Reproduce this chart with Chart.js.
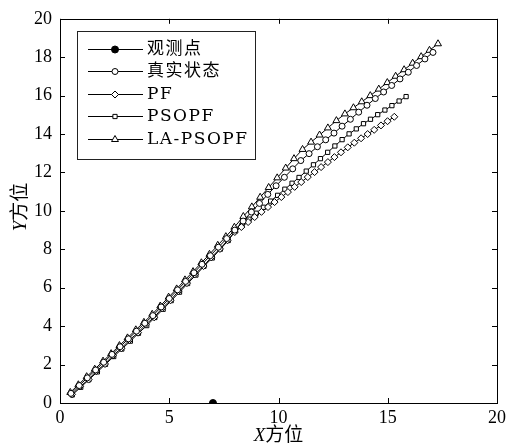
<!DOCTYPE html>
<html>
<head>
<meta charset="utf-8">
<script src="https://cdn.jsdelivr.net/npm/chart.js@4"></script>
<style>
  html, body { margin: 0; padding: 0; background: #fff; }
  #wrap { width: 512px; height: 446px; }
</style>
</head>
<body>
<div id="wrap"><canvas id="traj"></canvas></div>
<script>
// Datos
const obsX = [7];
const obsY = [0];

const trueX = [0.50, 0.88, 1.25, 1.63, 2.00, 2.38, 2.75, 3.13, 3.50, 3.88, 4.25, 4.63, 5.00, 5.38, 5.75, 6.13, 6.50, 6.88, 7.25, 7.63, 8.00,
  8.38, 8.76, 9.13, 9.51, 9.89, 10.27, 10.65, 11.02, 11.40, 11.78, 12.16, 12.54, 12.91, 13.29, 13.67, 14.05, 14.43, 14.81, 15.18, 15.56, 15.94, 16.32, 16.70, 17.07];
const trueY = [0.50, 0.91, 1.31, 1.72, 2.12, 2.53, 2.93, 3.34, 3.74, 4.15, 4.55, 5.00, 5.44, 5.89, 6.33, 6.78, 7.22, 7.67, 8.11, 8.56, 9.00,
  9.47, 9.94, 10.39, 10.86, 11.31, 11.75, 12.19, 12.62, 12.98, 13.34, 13.70, 14.05, 14.41, 14.77, 15.14, 15.50, 15.85, 16.19, 16.53, 16.87, 17.22, 17.57, 17.91, 18.25];

const pfX = [0.55, 0.92, 1.31, 1.66, 2.06, 2.42, 2.81, 3.18, 3.57, 3.92, 4.31, 4.67, 5.06, 5.42, 5.81, 6.17, 6.57, 6.92, 7.32, 7.67, 8.00,
  8.30, 8.61, 8.91, 9.22, 9.52, 9.82, 10.13, 10.43, 10.74, 11.04, 11.34, 11.65, 11.95, 12.26, 12.56, 12.86, 13.17, 13.47, 13.78, 14.08, 14.38, 14.69, 14.99, 15.30];
const pfY = [0.45, 0.86, 1.22, 1.66, 2.03, 2.47, 2.85, 3.28, 3.66, 4.09, 4.46, 4.93, 5.35, 5.82, 6.24, 6.70, 7.13, 7.58, 8.02, 8.47, 8.90,
  9.16, 9.42, 9.68, 9.95, 10.20, 10.46, 10.72, 10.98, 11.25, 11.50, 11.76, 12.02, 12.28, 12.54, 12.80, 13.05, 13.31, 13.55, 13.78, 14.00, 14.22, 14.45, 14.67, 14.90];

const psoX = [0.56, 0.95, 1.32, 1.71, 2.08, 2.46, 2.83, 3.22, 3.59, 3.97, 4.34, 4.72, 5.09, 5.47, 5.84, 6.22, 6.59, 6.97, 7.34, 7.70, 8.02,
  8.33, 8.65, 8.98, 9.31, 9.64, 9.96, 10.29, 10.62, 10.94, 11.27, 11.60, 11.92, 12.25, 12.58, 12.91, 13.23, 13.56, 13.89, 14.21, 14.54, 14.87, 15.19, 15.52, 15.84];
const psoY = [0.42, 0.82, 1.21, 1.62, 2.01, 2.42, 2.81, 3.22, 3.63, 4.03, 4.45, 4.88, 5.33, 5.77, 6.22, 6.66, 7.12, 7.55, 8.01, 8.46, 8.95,
  9.26, 9.57, 9.88, 10.19, 10.51, 10.81, 11.13, 11.44, 11.74, 12.07, 12.40, 12.72, 13.05, 13.38, 13.71, 14.01, 14.27, 14.54, 14.77, 15.01, 15.25, 15.48, 15.72, 15.95];

const laX = [0.47, 0.84, 1.22, 1.59, 1.97, 2.34, 2.72, 3.09, 3.47, 3.84, 4.22, 4.59, 4.97, 5.34, 5.72, 6.09, 6.47, 6.84, 7.22, 7.59, 7.98,
  8.39, 8.78, 9.16, 9.55, 9.94, 10.33, 10.71, 11.10, 11.49, 11.88, 12.26, 12.65, 13.04, 13.43, 13.81, 14.20, 14.59, 14.98, 15.36, 15.75, 16.14, 16.53, 16.91, 17.30];
const laY = [0.55, 0.95, 1.37, 1.76, 2.18, 2.57, 2.99, 3.39, 3.81, 4.20, 4.62, 5.05, 5.51, 5.94, 6.41, 6.84, 7.30, 7.74, 8.21, 8.66, 9.15,
  9.71, 10.21, 10.71, 11.22, 11.72, 12.23, 12.72, 13.20, 13.58, 13.95, 14.32, 14.70, 15.05, 15.37, 15.68, 16.00, 16.34, 16.68, 17.01, 17.35, 17.69, 18.03, 18.36, 18.70];

const labels = ["观测点", "真实状态", "PF", "PSOPF", "LA-PSOPF"];
const xTicks = [0, 5, 10, 15, 20];
const yTicks = [0, 2, 4, 6, 8, 10, 12, 14, 16, 18, 20];

const serif = "'Liberation Serif', 'Noto Sans CJK SC', serif";
const serifAncha = "'DejaVu Serif', 'Noto Sans CJK SC', serif"; // para la leyenda

function pts(xs, ys) {
  return xs.map((x, i) => ({ x: x, y: ys[i] }));
}

function serie(label, xs, ys, style, radius, fill) {
  return {
    label: label,
    data: pts(xs, ys),
    showLine: true,
    borderColor: "#000",
    borderWidth: 1,
    pointStyle: style,
    pointRadius: radius,
    pointBorderWidth: 1,
    pointBorderColor: "#000",
    pointBackgroundColor: fill,
    backgroundColor: fill,
  };
}

const datasets = [
  serie(labels[0], obsX, obsY, "circle", 3.5, "#000"),
  serie(labels[1], trueX, trueY, "circle", 3, "#fff"),
  serie(labels[2], pfX, pfY, "rectRot", 3.5, "#fff"),
  serie(labels[3], psoX, psoY, "rect", 3, "#fff"),
  serie(labels[4], laX, laY, "triangle", 4, "#fff"),
];

// marco, ticks hacia dentro, titulos y leyenda
const marco = {
  id: "marco",
  afterDatasetsDraw(chart) {
    const { ctx, chartArea: a, scales } = chart;
    ctx.save();
    ctx.strokeStyle = "#000";
    ctx.lineWidth = 1;
    ctx.strokeRect(Math.round(a.left) + 0.5, Math.round(a.top) + 0.5, Math.round(a.right - a.left), Math.round(a.bottom - a.top));
    const tl = 5;
    ctx.beginPath();
    xTicks.forEach(v => {
      const px = Math.round(scales.x.getPixelForValue(v)) + 0.5;
      ctx.moveTo(px, a.bottom); ctx.lineTo(px, a.bottom - tl);
      ctx.moveTo(px, a.top); ctx.lineTo(px, a.top + tl);
    });
    yTicks.forEach(v => {
      const py = Math.round(scales.y.getPixelForValue(v)) + 0.5;
      ctx.moveTo(a.left, py); ctx.lineTo(a.left + tl, py);
      ctx.moveTo(a.right, py); ctx.lineTo(a.right - tl, py);
    });
    ctx.stroke();

    // titulos de ejes: X/Y en cursiva
    ctx.fillStyle = "#000";
    ctx.textBaseline = "middle";
    const cx = (a.left + a.right) / 2;
    ctx.font = "italic 19px " + serif;
    const wX = ctx.measureText("X").width;
    ctx.font = "19px " + serif;
    const wR = ctx.measureText("方位").width;
    let sx = cx - (wX + wR) / 2;
    ctx.font = "italic 19px " + serif;
    ctx.textAlign = "left";
    ctx.fillText("X", sx, 436);
    ctx.font = "19px " + serif;
    ctx.fillText("方位", sx + wX, 436);

    ctx.save();
    ctx.translate(21, 207);
    ctx.rotate(-Math.PI / 2);
    ctx.font = "italic 19px " + serif;
    const wY = ctx.measureText("Y").width;
    sx = -(wY + wR) / 2;
    ctx.fillText("Y", sx, 0);
    ctx.font = "19px " + serif;
    ctx.fillText("方位", sx + wY, 0);
    ctx.restore();

    // leyenda
    const bx = 77.5, by = 31.5, bw = 178, bh = 128;
    ctx.fillStyle = "#fff";
    ctx.fillRect(bx, by, bw, bh);
    ctx.strokeStyle = "#222";
    ctx.strokeRect(bx, by, bw, bh);
    ctx.font = "17px " + serifAncha;
    ctx.letterSpacing = "1.5px";
    ctx.textAlign = "left";
    chart.data.datasets.forEach((ds, i) => {
      const y = Math.round(by + 17 + i * 22.5) + 0.5;
      ctx.strokeStyle = "#000";
      ctx.lineWidth = 1;
      ctx.beginPath();
      ctx.moveTo(88, y); ctx.lineTo(143, y);
      ctx.stroke();
      ctx.fillStyle = ds.pointBackgroundColor;
      Chart.helpers.drawPoint(ctx, { pointStyle: ds.pointStyle, radius: ds.pointRadius, borderWidth: 1, rotation: 0 }, 115, y);
      ctx.fillStyle = "#000";
      ctx.fillText(ds.label, 147, y);
    });
    ctx.restore();
  },
};

new Chart(document.getElementById("traj"), {
  type: "scatter",
  data: { datasets: datasets },
  options: {
    responsive: true,
    maintainAspectRatio: false,
    animation: false,
    layout: { padding: { top: 15, right: 15, left: 0, bottom: 0 } },
    plugins: { legend: { display: false }, tooltip: { enabled: false } },
    scales: {
      x: {
        type: "linear",
        min: 0, max: 20,
        afterBuildTicks: s => { s.ticks = xTicks.map(v => ({ value: v })); },
        afterFit: s => { s.height = 43; },
        grid: { display: false, drawTicks: false },
        border: { display: false },
        ticks: { padding: 4, color: "#000", font: { family: serif, size: 18 } },
      },
      y: {
        type: "linear",
        min: 0, max: 20,
        afterBuildTicks: s => { s.ticks = yTicks.map(v => ({ value: v })); },
        afterFit: s => { s.width = 60; },
        grid: { display: false, drawTicks: false },
        border: { display: false },
        ticks: { padding: 8, color: "#000", font: { family: serif, size: 18 } },
      },
    },
  },
  plugins: [marco],
});
</script>
</body>
</html>
